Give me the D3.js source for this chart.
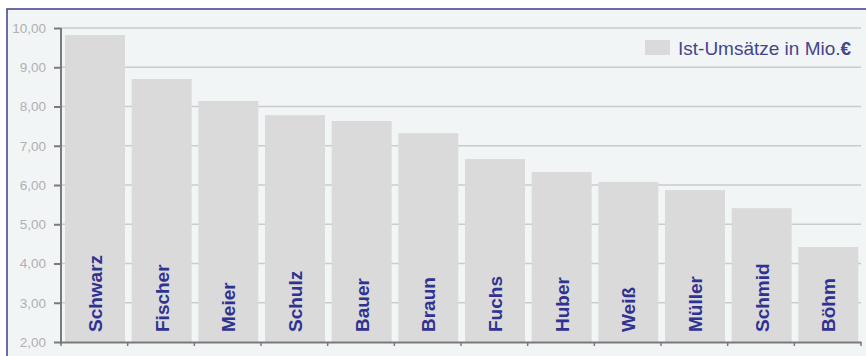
<!DOCTYPE html>
<html>
<head>
<meta charset="utf-8">
<script src="https://cdn.jsdelivr.net/npm/d3@7"></script>
<style>
  body { margin: 0; background: #fff; }
  svg { display: block; }
</style>
</head>
<body>
<div id="chart"></div>
<script>
// Ist-Umsätze je Vertreter (Mio. €)
var names = ["Schwarz", "Fischer", "Meier", "Schulz", "Bauer", "Braun", "Fuchs", "Huber", "Weiß", "Müller", "Schmid", "Böhm"];
var umsatz = [9.82, 8.70, 8.14, 7.78, 7.63, 7.32, 6.66, 6.33, 6.08, 5.87, 5.41, 4.42];
var yTicks = [2, 3, 4, 5, 6, 7, 8, 9, 10];
var legendLabel = "Ist-Umsätze in Mio.";

var width = 866, height = 356;
var margin = {top: 28, right: 5, bottom: 14, left: 61};

var svg = d3.select("#chart").append("svg")
    .attr("width", width)
    .attr("height", height);

// frame
svg.append("rect")
    .attr("x", 7).attr("y", 9)
    .attr("width", width).attr("height", height)
    .attr("fill", "#f2f5f6")
    .attr("stroke", "#3c3c8c")
    .attr("stroke-width", 1.5);

var x = d3.scaleBand()
    .domain(names)
    .range([margin.left, width - margin.right])
    .paddingInner(0)
    .paddingOuter(0);

var y = d3.scaleLinear()
    .domain([2, 10])
    .range([height - margin.bottom, margin.top]);

var fmt = function(v) { return d3.format(".2f")(v).replace(".", ","); };

// grid lines
svg.append("g")
  .selectAll("line")
    .data(yTicks.slice(1))
  .enter().append("line")
    .attr("x1", margin.left).attr("x2", width - margin.right)
    .attr("y1", function(d) { return y(d); })
    .attr("y2", function(d) { return y(d); })
    .attr("stroke", "#c9cbcd")
    .attr("stroke-width", 1.5);

// bars
var bw = x.bandwidth() * 0.9;
svg.append("g")
  .selectAll("rect")
    .data(umsatz)
  .enter().append("rect")
    .attr("x", function(d, i) { return x(names[i]) + 4; })
    .attr("y", function(d) { return y(d); })
    .attr("width", bw)
    .attr("height", function(d) { return y(2) - y(d); })
    .attr("fill", "#dadada");

// bar labels
svg.append("g")
  .selectAll("text")
    .data(names)
  .enter().append("text")
    .attr("transform", function(d) {
      return "translate(" + (x(d) + 4 + bw / 2 + 7) + "," + (y(2) - 10) + ") rotate(-90)";
    })
    .attr("font-family", "Liberation Sans, Arial, sans-serif")
    .attr("font-weight", "bold")
    .attr("font-size", "19px")
    .attr("fill", "#2f3290")
    .text(function(d) { return d; });

// y axis
var yAxis = d3.axisLeft(y)
    .tickValues(yTicks)
    .tickSize(7)
    .tickPadding(8)
    .tickFormat(fmt);

var gy = svg.append("g")
    .attr("transform", "translate(" + margin.left + ",0)")
    .call(yAxis);
gy.select(".domain").attr("stroke", "#7a7a7a").attr("stroke-width", 2)
    .attr("d", "M0," + (y(10)) + "V" + (y(2) + 2));
gy.selectAll(".tick line").attr("stroke", "#7a7a7a").attr("stroke-width", 2);
gy.selectAll(".tick text")
    .attr("fill", "#b0b0b0")
    .attr("font-family", "Liberation Sans, Arial, sans-serif")
    .attr("font-size", "13.5px");

// x axis
var xAxis = d3.axisBottom(x).tickSize(0).tickFormat("");
var gx = svg.append("g")
    .attr("transform", "translate(0," + y(2) + ")")
    .call(xAxis);
gx.select(".domain").attr("stroke", "#7a7a7a").attr("stroke-width", 2);
var bounds = names.map(function(d) { return x(d); }).concat([x.range()[1]]);
gx.selectAll(".xtick")
    .data(bounds)
  .enter().append("line")
    .attr("x1", function(d) { return d; })
    .attr("x2", function(d) { return d; })
    .attr("y1", 0).attr("y2", 4)
    .attr("stroke", "#7a7a7a")
    .attr("stroke-width", 1.5);

// legend
var legend = svg.append("g")
    .attr("transform", "translate(645,40)");
legend.append("rect")
    .attr("width", 25).attr("height", 15)
    .attr("fill", "#dadada");
var lt = legend.append("text")
    .attr("x", 33).attr("y", 15)
    .attr("font-family", "Liberation Sans, Arial, sans-serif")
    .attr("font-size", "19px")
    .attr("fill", "#45458c")
    .text(legendLabel);
lt.append("tspan").attr("font-weight", "bold").text("€");
</script>
</body>
</html>
